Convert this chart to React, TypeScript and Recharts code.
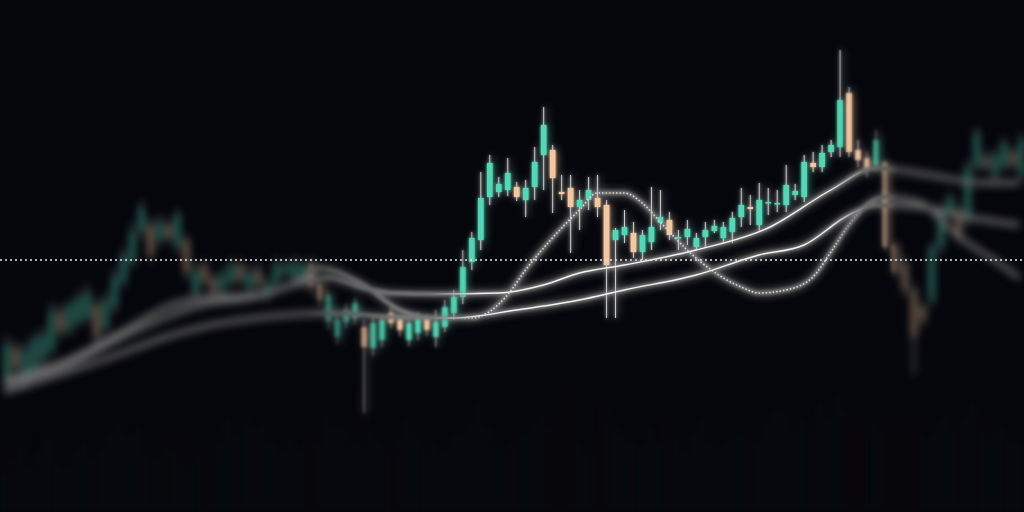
import React from "react";
import { ComposedChart, Bar, Line, XAxis, YAxis, ReferenceLine } from "recharts";

// candles, read left to right (price units, higher = up)
const opens = [
  134, 164, 130, 140, 152, 162, 200, 182, 190, 194, 207, 184, 205, 230, 250, 280, 287, 272, 287, 265,
  272, 219, 247, 234, 222, 230, 247, 224, 242, 217, 229, 239, 234, 230, 249, 227, 190, 175, 190, 194,
  185, 164, 172, 199, 192, 172, 179, 192, 175, 185, 199, 215, 250, 272, 315, 320, 322, 325, 312, 325,
  357, 362, 320, 324, 305, 312, 314, 307, 272, 277, 279, 260, 270, 289, 292, 274, 275, 265, 275, 281,
  274, 280, 295, 305, 287, 309, 308, 307, 317, 315, 349, 345, 360, 365, 419, 362, 354, 347, 350, 267,
  249, 222, 205, 212, 265, 299, 302, 292, 345, 355, 337, 345, 360, 337,
];
const closes = [
  167, 144, 162, 172, 177, 200, 180, 207, 214, 219, 175, 212, 235, 257, 280, 304, 257, 290, 274, 297,
  240, 242, 230, 220, 237, 247, 232, 240, 227, 230, 247, 247, 249, 247, 225, 212, 217, 192, 202, 209,
  165, 189, 192, 189, 182, 189, 195, 182, 190, 205, 215, 245, 274, 314, 349, 328, 339, 315, 324, 350,
  387, 334, 318, 305, 312, 322, 305, 247, 282, 285, 260, 277, 285, 295, 277, 275, 283, 274, 282, 286,
  285, 294, 307, 303, 312, 310, 309, 327, 321, 350, 345, 359, 367, 412, 360, 352, 342, 372, 265, 240,
  222, 175, 192, 265, 302, 315, 275, 345, 379, 345, 357, 369, 347, 372,
];
const highs = [
  177, 172, 170, 180, 185, 210, 208, 213, 222, 228, 214, 220, 244, 264, 290, 312, 295, 298, 294, 303,
  278, 250, 252, 240, 245, 254, 253, 248, 250, 236, 255, 252, 256, 253, 254, 232, 222, 197, 208, 214,
  192, 196, 198, 204, 197, 194, 200, 198, 202, 212, 222, 262, 280, 340, 357, 335, 354, 330, 332, 365,
  405, 367, 337, 337, 322, 335, 337, 312, 284, 302, 290, 282, 325, 322, 300, 282, 292, 279, 290, 292,
  290, 300, 324, 317, 329, 324, 322, 347, 328, 357, 360, 367, 372, 462, 425, 372, 360, 382, 352, 270,
  256, 228, 210, 270, 310, 320, 310, 352, 385, 362, 362, 375, 365, 380,
];
const lows = [
  124, 137, 122, 134, 145, 155, 172, 176, 184, 188, 168, 178, 198, 224, 244, 272, 250, 265, 268, 258,
  232, 212, 224, 214, 216, 224, 226, 218, 220, 210, 222, 234, 228, 224, 218, 206, 182, 168, 184, 188,
  99, 156, 165, 184, 176, 166, 172, 176, 165, 180, 192, 208, 242, 262, 307, 315, 316, 311, 295, 312,
  322, 299, 312, 259, 282, 302, 295, 194, 194, 269, 254, 252, 262, 282, 272, 262, 267, 262, 265, 279,
  268, 269, 285, 287, 280, 297, 300, 300, 312, 310, 340, 340, 355, 355, 355, 345, 335, 340, 262, 235,
  215, 137, 185, 205, 258, 292, 270, 285, 340, 340, 330, 340, 342, 330,
];
const volumes = [
  40, 55, 70, 45, 60, 80, 50, 45, 60, 70, 55,
  65, 80, 90, 75, 85, 60, 55, 70, 65, 75,
  50, 60, 55, 70, 95, 80, 100, 85, 90, 70,
  60, 75, 65, 80, 70, 100, 85, 90, 70, 120,
  85, 70, 60, 75, 95, 80, 65, 70, 60, 75,
  80, 90, 110, 85, 70, 65, 75, 80, 90, 100,
  85, 95, 120, 70, 60, 75, 110, 90, 80, 70,
  65, 85, 70, 90, 75, 60, 80, 95, 70, 65,
  75, 80, 85, 70, 90, 100, 105, 80, 95, 85,
  110, 95, 120, 100, 90, 80, 95, 85, 90, 80,
  95, 85, 75, 90, 100, 85, 95, 110, 90, 80, 85, 75, 70,
];

// moving averages as [candle index, value] readings
const ma5Points: [number, number][] = [
  [0, 132], [7, 152], [14, 185], [18, 205], [22, 214], [28, 217], [33, 232], [35, 244], [40, 227],
  [44, 202], [48, 194], [52, 194], [56, 217], [58, 242], [61, 274], [64, 302], [66, 319], [69, 319],
  [71, 309], [73, 290], [76, 262], [79, 240], [82, 225], [84, 219], [87, 222], [90, 235], [92, 260],
  [94, 287], [96, 307], [98, 315], [102, 309], [106, 277], [111, 247], [113, 234],
];
const ma10Points: [number, number][] = [
  [0, 127], [7, 147], [14, 179], [22, 207], [28, 215], [33, 229], [36, 234], [40, 224], [43, 219],
  [48, 218], [55, 219], [60, 227], [64, 239], [69, 247], [77, 262], [85, 284], [92, 322], [97, 344],
  [103, 337], [109, 329], [113, 329],
];
const ma20Points: [number, number][] = [
  [0, 120], [11, 152], [18, 175], [22, 185], [29, 195], [37, 199], [43, 195], [50, 194], [57, 202],
  [64, 212], [69, 222], [77, 237], [84, 257], [89, 267], [94, 297], [97, 307], [102, 305], [106, 297],
  [113, 287],
];
const guideLevel = 252;

const TEAL = "#56d6b6";
const PEACH = "#f4c7a3";
const WICK = "#c9c9c9";
const BG = "#05060b";

const lookup = (pts: [number, number][]) => new Map(pts.map(([i, v]) => [i, v]));
const m5 = lookup(ma5Points);
const m10 = lookup(ma10Points);
const m20 = lookup(ma20Points);

const rows = opens.map((open, i) => ({
  i,
  open,
  close: closes[i],
  high: highs[i],
  low: lows[i],
  range: [lows[i], highs[i]],
  vol: volumes[i],
  ma5: m5.has(i) ? m5.get(i) : null,
  ma10: m10.has(i) ? m10.get(i) : null,
  ma20: m20.has(i) ? m20.get(i) : null,
}));

const Candle = (props: any) => {
  const { x, y, width, height, payload } = props;
  const top = Math.min(y, y + height);
  const h = Math.abs(height);
  const span = payload.high - payload.low || 1;
  const toY = (v: number) => top + ((payload.high - v) / span) * h;
  const up = payload.close >= payload.open;
  const cx = x + width / 2;
  const bTop = toY(Math.max(payload.open, payload.close));
  const bBot = toY(Math.min(payload.open, payload.close));
  const bw = Math.max(width * 0.7, 2);
  return (
    <g>
      <line x1={cx} x2={cx} y1={top} y2={top + h} stroke={WICK} strokeWidth={1} />
      <rect
        x={cx - bw / 2}
        y={bTop}
        width={bw}
        height={Math.max(bBot - bTop, 1.5)}
        fill={up ? TEAL : PEACH}
      />
    </g>
  );
};

const VolBar = (props: any) => {
  const { x, y, width, height, payload } = props;
  const up = payload.close >= payload.open;
  return (
    <rect
      x={x + width * 0.3}
      y={y}
      width={width * 0.4}
      height={height}
      fill={up ? "#2f8f7c" : "#9a3a3a"}
      fillOpacity={0.13}
    />
  );
};

type LayerProps = {
  blur?: number;
  mask?: string;
  soft?: boolean;
  volume?: boolean;
  guideOnly?: boolean;
  opacity?: number;
};

const Layer = ({ blur, mask, soft, volume, guideOnly, opacity }: LayerProps) => {
  const lineColor = soft ? "#767676" : "#f2f2f2";
  const lineWidth = soft ? 4.5 : 1.4;
  return (
    <div
      style={{
        position: "absolute",
        inset: 0,
        opacity,
        filter: blur ? `blur(${blur}px)` : undefined,
        WebkitMaskImage: mask,
        maskImage: mask,
      }}
    >
      <ComposedChart
        width={1024}
        height={512}
        data={rows}
        margin={{ top: 0, right: 0, bottom: 0, left: 0 }}
        barCategoryGap="8%"
        barGap={0}
      >
        <XAxis dataKey="i" hide />
        <YAxis yAxisId="p" domain={[0, 512]} hide />
        <YAxis yAxisId="v" domain={[0, 512]} hide />
        {guideOnly && (
          <Line
            yAxisId="p"
            dataKey="close"
            stroke="transparent"
            strokeWidth={0}
            dot={false}
            activeDot={false}
            isAnimationActive={false}
          />
        )}
        {guideOnly && (
          <ReferenceLine
            yAxisId="p"
            y={guideLevel}
            stroke="#e6e6e6"
            strokeWidth={1.4}
            strokeDasharray="2 3"
          />
        )}
        {!guideOnly && volume && (
          <Bar yAxisId="v" dataKey="vol" shape={VolBar} isAnimationActive={false} />
        )}
        {!guideOnly && (
          <Bar yAxisId="p" dataKey="range" shape={Candle} isAnimationActive={false} />
        )}
        {!guideOnly && (
          <Line
            yAxisId="p"
            type="monotone"
            dataKey="ma20"
            stroke={lineColor}
            strokeWidth={lineWidth}
            dot={false}
            connectNulls
            isAnimationActive={false}
          />
        )}
        {!guideOnly && (
          <Line
            yAxisId="p"
            type="monotone"
            dataKey="ma10"
            stroke={lineColor}
            strokeWidth={lineWidth}
            dot={false}
            connectNulls
            isAnimationActive={false}
          />
        )}
        {!guideOnly && (
          <Line
            yAxisId="p"
            type="monotone"
            dataKey="ma5"
            stroke={soft ? lineColor : "#dcdcdc"}
            strokeWidth={soft ? lineWidth : 1.6}
            strokeDasharray={soft ? undefined : "1.5 2"}
            dot={false}
            connectNulls
            isAnimationActive={false}
          />
        )}
      </ComposedChart>
    </div>
  );
};

const sharpMask =
  "linear-gradient(to right, transparent 430px, #000 480px, #000 830px, transparent 865px)";
const midMask =
  "linear-gradient(to right, transparent 300px, #000 400px, #000 860px, transparent 900px)";

export default function App() {
  return (
    <div
      style={{
        position: "fixed",
        top: 0,
        left: 0,
        width: 1024,
        height: 512,
        overflow: "hidden",
        background: BG,
      }}
    >
      <Layer blur={4} soft volume />
      <Layer blur={1.5} mask={midMask} soft />
      <Layer mask={sharpMask} />
      <Layer blur={0.4} guideOnly />
    </div>
  );
}
